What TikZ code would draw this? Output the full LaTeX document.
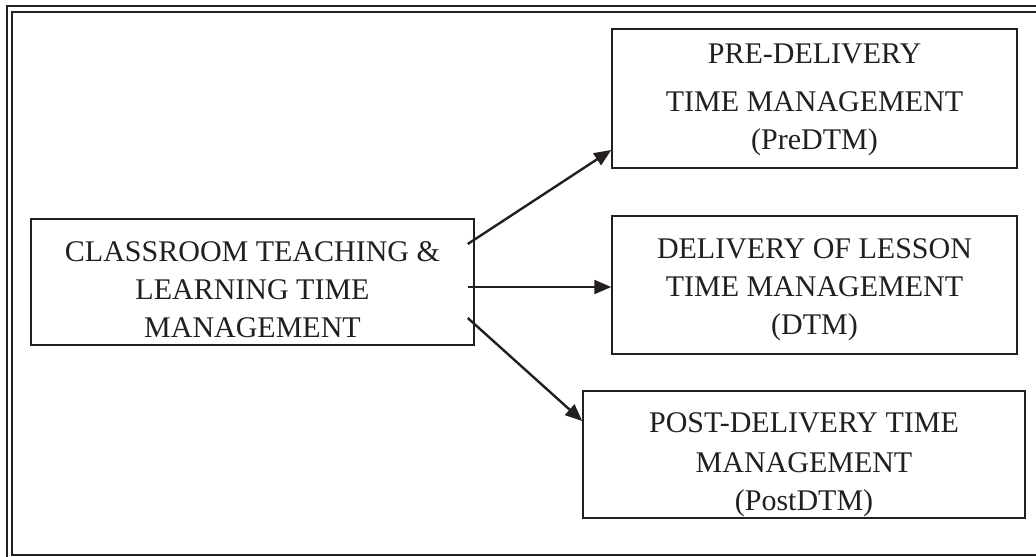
\documentclass[tikz,border=0pt]{standalone}
\usepackage{fontspec}
\setmainfont{Liberation Serif}
\usepackage{xcolor}
\usetikzlibrary{arrows.meta,positioning,calc}
\definecolor{ink}{HTML}{231F20}

\begin{document}
\begin{tikzpicture}[x=0.5pt, y=-0.5pt, every node/.style={font=\fontsize{15}{19}\selectfont, text=ink},
    box/.style={draw=ink, line width=0.75pt, inner sep=0pt},
    boxtext/.style={align=center, inner sep=0pt},
    link/.style={draw=ink, line width=1.2pt, -{Triangle[length=8.5pt, width=7pt]}}]
        \useasboundingbox (0,0) rectangle (1036,556);
        \clip (0,0) rectangle (1036,556);

        % Double frame
        \draw[ink, line width=1pt] (6.5,6.5) rectangle (1060,580);
        \draw[ink, line width=1pt] (12,12) rectangle (1050,555);

        % Main box
        \node[box, minimum width=221.5pt, minimum height=63pt] (ctl) at (252.5,282) {};
        \node[boxtext] (ctl-text) at ($(ctl.center)+(0,8)$)
            {CLASSROOM TEACHING \&\\ LEARNING TIME\\ MANAGEMENT};

        % Three time management boxes
        \node[box, minimum width=202.5pt, minimum height=69.5pt] (pre) at (814.5,98.5) {};
        \node[boxtext] (pre-text) at ($(pre.center)+(0,1)$)
            {PRE-DELIVERY\\[5pt] TIME MANAGEMENT\\ (PreDTM)};
        \node[box, minimum width=202.5pt, minimum height=69pt] (dtm) at (814.5,285) {};
        \node[boxtext] (dtm-text) at ($(dtm.center)+(0,5)$)
            {DELIVERY OF LESSON\\ TIME MANAGEMENT\\ (DTM)};
        \node[box, minimum width=221pt, minimum height=63.5pt] (post) at (804,454.5) {};
        \node[boxtext] (post-text) at ($(post.center)+(0,10)$)
            {POST-DELIVERY TIME\\[1pt] MANAGEMENT\\[0pt] (PostDTM)};

        % Arrow ends
        \coordinate (s1) at ($(ctl.east)+(-7,-38)$);
        \coordinate (s2) at ($(ctl.east)+(-7,5)$);
        \coordinate (s3) at ($(ctl.east)+(-7,36)$);
        \coordinate (e1) at ($(pre.west)+(0,51.5)$);
        \coordinate (e3) at ($(post.west)+(0,-33.5)$);

        % Arrows
        \draw[link] (s1) -- (e1);
        \draw[link] (s2) -- (s2 -| dtm.west);
        \draw[link] (s3) -- (e3);
    \end{tikzpicture}
\end{document}
